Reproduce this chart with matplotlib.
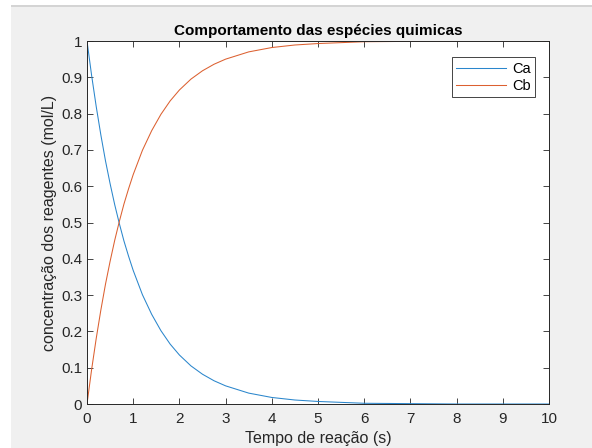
import matplotlib
matplotlib.use('Agg')
import matplotlib.pyplot as plt
from matplotlib.patches import Rectangle

plt.rcParams['font.family'] = ['Liberation Sans', 'DejaVu Sans']

# tempo (s) e concentracoes
tempo = [0, 0.1, 0.2, 0.3, 0.4, 0.5, 0.6, 0.7, 0.8, 0.9, 1.0, 1.2, 1.4, 1.6, 1.8,
         2.0, 2.25, 2.5, 2.75, 3.0, 3.5, 4.0, 4.5, 5.0, 6.0, 7.0, 8.0, 9.0, 10.0]
Ca = [1.0, 0.905, 0.819, 0.741, 0.670, 0.607, 0.549, 0.497, 0.449, 0.407, 0.368,
      0.301, 0.247, 0.202, 0.165, 0.135, 0.105, 0.082, 0.064, 0.050, 0.030, 0.018,
      0.011, 0.007, 0.002, 0.001, 0.0, 0.0, 0.0]
Cb = [0.0, 0.095, 0.181, 0.259, 0.330, 0.393, 0.451, 0.503, 0.551, 0.593, 0.632,
      0.699, 0.753, 0.798, 0.835, 0.865, 0.895, 0.918, 0.936, 0.950, 0.970, 0.982,
      0.989, 0.993, 0.998, 0.999, 1.0, 1.0, 1.0]
xticks = list(range(0, 11))
yticks = [0, 0.1, 0.2, 0.3, 0.4, 0.5, 0.6, 0.7, 0.8, 0.9, 1]

fig = plt.figure(figsize=(5.92, 4.48), dpi=100, facecolor='white')
# fundo cinza da janela do MATLAB
fig.patches.append(Rectangle((11 / 592, 0), 1, 1 - 7 / 448, transform=fig.transFigure,
                             facecolor='#f0f0f0', edgecolor='none', zorder=-10))
fig.patches.append(Rectangle((11 / 592, 1 - 7 / 448), 1, 2 / 448, transform=fig.transFigure,
                             facecolor='#d4d4d4', edgecolor='none', zorder=-10))

ax = fig.add_axes([87 / 592, 1 - 404 / 448, 462 / 592, 363 / 448])
ax.plot(tempo, Ca, color='#2a86cc', lw=0.75, label='Ca')
ax.plot(tempo, Cb, color='#dc6030', lw=0.75, label='Cb')

ax.set_xlim(0, 10)
ax.set_ylim(0, 1)
ax.set_xticks(xticks)
ax.set_yticks(yticks)
ax.set_xticklabels([str(v) for v in xticks])
ax.set_yticklabels(['0', '0.1', '0.2', '0.3', '0.4', '0.5', '0.6', '0.7', '0.8', '0.9', '1'])
ax.tick_params(direction='in', top=True, right=True, length=4, width=0.6,
               colors='#262626', labelsize=11)
ax.tick_params(axis='x', pad=6)
for s in ax.spines.values():
    s.set_color('#262626')
    s.set_linewidth(0.7)

ax.set_title('Comportamento das espécies quimicas', fontsize=11, fontweight='bold', pad=4)
ax.set_xlabel('Tempo de reação (s)', fontsize=11.5, color='#262626', labelpad=3)
ax.set_ylabel('concentração dos reagentes (mol/L)', fontsize=11.5, color='#262626', labelpad=3)

leg = ax.legend(loc='upper right', bbox_to_anchor=(0.985, 0.975), fancybox=False,
                framealpha=1, edgecolor='#262626', fontsize=10.5, handlelength=3.4,
                borderpad=0.3, labelspacing=0.2, handletextpad=0.4)
leg.get_frame().set_linewidth(0.6)

fig.savefig('out.png', dpi=100, facecolor=fig.get_facecolor())
